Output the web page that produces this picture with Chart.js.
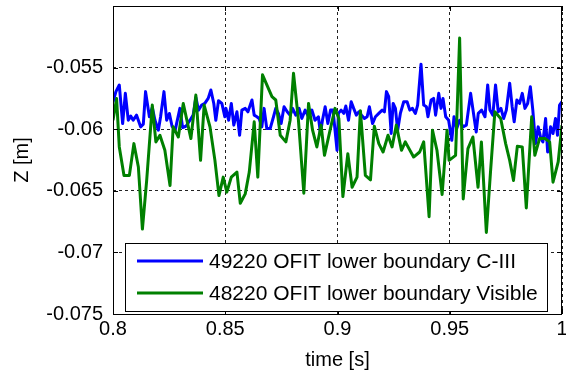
<!DOCTYPE html>
<html>
<head>
<meta charset="utf-8">
<script src="https://cdn.jsdelivr.net/npm/chart.js@4/dist/chart.umd.min.js"></script>
<style>
  body { margin: 0; background: #fff; }
  #wrap { width: 566px; height: 372px; }
</style>
</head>
<body>
<div id="wrap"><canvas id="zChart" width="566" height="372"></canvas></div>
<script>
// time axis samples [s] and lower boundary Z [m]
const blueTimes = [0.8000,0.8013,0.8028,0.8043,0.8055,0.8068,0.8079,0.8090,0.8105,0.8123,0.8135,0.8145,0.8162,0.8175,0.8187,0.8202,0.8212,0.8227,0.8239,0.8251,0.8263,0.8277,0.8298,0.8310,0.8325,0.8343,0.8357,0.8369,0.8381,0.8395,0.8409,0.8424,0.8436,0.8449,0.8458,0.8470,0.8485,0.8498,0.8503,0.8515,0.8527,0.8538,0.8552,0.8564,0.8574,0.8589,0.8601,0.8619,0.8629,0.8641,0.8651,0.8663,0.8673,0.8685,0.8700,0.8715,0.8725,0.8737,0.8749,0.8762,0.8776,0.8789,0.8800,0.8814,0.8829,0.8841,0.8856,0.8871,0.8886,0.8900,0.8915,0.8924,0.8933,0.8945,0.8957,0.8969,0.8980,0.8998,0.9004,0.9016,0.9028,0.9037,0.9049,0.9061,0.9072,0.9084,0.9095,0.9107,0.9120,0.9132,0.9142,0.9156,0.9169,0.9184,0.9199,0.9209,0.9218,0.9228,0.9239,0.9248,0.9258,0.9268,0.9280,0.9295,0.9310,0.9322,0.9334,0.9347,0.9357,0.9372,0.9384,0.9396,0.9403,0.9417,0.9428,0.9437,0.9451,0.9461,0.9470,0.9482,0.9495,0.9509,0.9519,0.9531,0.9544,0.9559,0.9574,0.9593,0.9608,0.9618,0.9627,0.9642,0.9657,0.9669,0.9679,0.9692,0.9704,0.9716,0.9728,0.9740,0.9752,0.9767,0.9778,0.9787,0.9799,0.9811,0.9823,0.9835,0.9847,0.9859,0.9870,0.9882,0.9894,0.9906,0.9915,0.9927,0.9936,0.9949,0.9960,0.9971,0.9980,0.9989,1.0000];
const blueZ = [-0.0578,-0.05695,-0.05641,-0.05954,-0.05709,-0.05927,-0.05894,-0.05927,-0.05886,-0.05981,-0.05959,-0.05695,-0.05899,-0.05823,-0.05927,-0.06008,-0.05899,-0.05695,-0.05927,-0.05872,-0.05976,-0.06008,-0.05831,-0.05986,-0.05976,-0.05927,-0.05886,-0.05742,-0.05845,-0.05804,-0.05791,-0.0575,-0.05682,-0.05791,-0.05927,-0.05769,-0.05791,-0.05899,-0.05831,-0.05927,-0.05791,-0.05967,-0.05859,-0.06049,-0.05845,-0.05831,-0.05859,-0.05763,-0.05886,-0.05899,-0.05913,-0.05981,-0.05831,-0.05995,-0.05995,-0.05899,-0.05831,-0.05872,-0.05954,-0.05818,-0.05859,-0.05886,-0.05831,-0.05886,-0.05831,-0.05913,-0.05845,-0.05899,-0.05845,-0.05927,-0.05899,-0.06035,-0.05927,-0.05818,-0.05954,-0.05845,-0.05845,-0.06171,-0.05872,-0.05845,-0.05872,-0.05812,-0.05927,-0.05777,-0.05831,-0.05886,-0.05859,-0.05886,-0.05913,-0.05899,-0.05818,-0.05954,-0.05899,-0.05872,-0.05845,-0.05859,-0.05695,-0.05736,-0.06035,-0.05791,-0.05831,-0.06008,-0.05872,-0.05777,-0.05777,-0.05845,-0.05831,-0.05872,-0.05804,-0.05472,-0.05804,-0.05818,-0.05899,-0.05763,-0.0575,-0.05886,-0.05709,-0.05831,-0.0575,-0.05899,-0.05927,-0.0609,-0.05899,-0.05995,-0.05927,-0.05981,-0.05967,-0.05709,-0.05899,-0.06022,-0.05872,-0.05845,-0.05899,-0.05641,-0.05845,-0.05886,-0.05641,-0.05859,-0.05831,-0.05913,-0.05845,-0.05627,-0.05818,-0.0594,-0.05763,-0.05791,-0.05709,-0.05831,-0.05791,-0.05655,-0.05845,-0.06117,-0.05981,-0.06076,-0.06103,-0.05913,-0.06185,-0.05981,-0.06035,-0.05913,-0.06049,-0.05804,-0.05777];

const greenTimes = [0.8000,0.8016,0.8028,0.8049,0.8073,0.8093,0.8113,0.8131,0.8150,0.8175,0.8191,0.8209,0.8231,0.8254,0.8268,0.8291,0.8313,0.8347,0.8369,0.8390,0.8406,0.8432,0.8454,0.8472,0.8491,0.8507,0.8527,0.8552,0.8567,0.8589,0.8607,0.8629,0.8645,0.8666,0.8708,0.8725,0.8745,0.8770,0.8789,0.8804,0.8826,0.8850,0.8871,0.8889,0.8908,0.8927,0.8942,0.8967,0.8989,0.9006,0.9024,0.9046,0.9065,0.9087,0.9102,0.9124,0.9147,0.9164,0.9184,0.9203,0.9225,0.9243,0.9262,0.9285,0.9302,0.9339,0.9366,0.9384,0.9408,0.9423,0.9443,0.9466,0.9488,0.9497,0.9526,0.9544,0.9560,0.9581,0.9603,0.9626,0.9641,0.9663,0.9682,0.9701,0.9727,0.9749,0.9767,0.9784,0.9801,0.9823,0.9841,0.9865,0.9879,0.9900,0.9924,0.9945,0.9960,0.9983,1.0000];
const greenZ = [-0.05927,-0.0575,-0.06144,-0.06375,-0.06375,-0.06117,-0.06307,-0.06811,-0.06416,-0.05804,-0.06103,-0.06049,-0.06171,-0.06457,-0.05981,-0.06063,-0.05791,-0.06076,-0.05723,-0.06253,-0.05804,-0.05981,-0.06253,-0.06539,-0.06389,-0.06511,-0.06389,-0.06348,-0.06601,-0.06525,-0.06348,-0.0594,-0.06389,-0.05559,-0.05736,-0.05763,-0.06049,-0.06103,-0.05927,-0.05546,-0.05927,-0.0652,-0.05791,-0.06008,-0.06144,-0.05967,-0.06212,-0.06008,-0.05831,-0.05913,-0.06547,-0.06199,-0.06471,-0.06389,-0.0585,-0.06375,-0.06411,-0.05976,-0.06117,-0.06185,-0.06049,-0.06144,-0.05967,-0.06171,-0.06103,-0.06226,-0.06185,-0.06103,-0.0671,-0.06008,-0.06171,-0.0653,-0.06008,-0.06253,-0.06212,-0.0526,-0.06566,-0.06158,-0.06063,-0.06471,-0.06103,-0.06838,-0.06335,-0.05859,-0.05913,-0.06117,-0.06253,-0.06416,-0.06139,-0.06144,-0.06639,-0.05899,-0.06212,-0.06076,-0.06076,-0.06103,-0.0643,-0.06266,-0.05967];

const seriesLabels = ['49220 OFIT lower boundary C-III', '48220 OFIT lower boundary Visible'];
const xTicks = [0.8, 0.85, 0.9, 0.95, 1];
const yTicks = [-0.075, -0.07, -0.065, -0.06, -0.055, -0.05];

const FONT = 'Helvetica, "Liberation Sans", Arial, sans-serif';

function toPoints(xs, ys) {
  return xs.map((x, i) => ({ x: x, y: ys[i] }));
}

// matlab style box with inward ticks, and legend box inside the axes
const matlabAxes = {
  id: 'matlabAxes',
  afterDatasetsDraw(chart) {
    const ctx = chart.ctx;
    const a = chart.chartArea;
    const xs = chart.scales.x, ys = chart.scales.y;
    ctx.save();
    ctx.strokeStyle = '#000';
    ctx.lineWidth = 1;
    ctx.strokeRect(a.left + 0.5, a.top + 0.5, a.right - a.left - 1, a.bottom - a.top);
    const tl = 5;
    ctx.beginPath();
    xTicks.forEach(t => {
      const px = Math.round(xs.getPixelForValue(t)) + 0.5;
      ctx.moveTo(px, a.bottom); ctx.lineTo(px, a.bottom - tl);
      ctx.moveTo(px, a.top); ctx.lineTo(px, a.top + tl);
    });
    yTicks.forEach(t => {
      const py = Math.round(ys.getPixelForValue(t)) + 0.5;
      ctx.moveTo(a.left, py); ctx.lineTo(a.left + tl, py);
      ctx.moveTo(a.right, py); ctx.lineTo(a.right - tl, py);
    });
    ctx.stroke();

    // legend
    const bx = a.left + 12, by = a.top + 237, bw = 422, bh = 68;
    ctx.fillStyle = '#fff';
    ctx.fillRect(bx, by, bw, bh);
    ctx.strokeRect(bx + 0.5, by + 0.5, bw, bh);
    ctx.font = '21px ' + FONT;
    ctx.textBaseline = 'middle';
    chart.data.datasets.forEach((ds, i) => {
      const ly = by + 18 + i * 32;
      ctx.strokeStyle = ds.borderColor;
      ctx.lineWidth = 3;
      ctx.beginPath();
      ctx.moveTo(bx + 12, ly);
      ctx.lineTo(bx + 78, ly);
      ctx.stroke();
      ctx.fillStyle = '#000';
      ctx.fillText(ds.label, bx + 84, ly + 1);
    });
    ctx.restore();
  }
};

new Chart(document.getElementById('zChart'), {
  type: 'line',
  data: {
    datasets: [{
      label: seriesLabels[0],
      data: toPoints(blueTimes, blueZ),
      borderColor: '#0000ff',
      borderWidth: 3,
      pointRadius: 0,
      tension: 0,
      borderJoinStyle: 'round',
      order: 2
    }, {
      label: seriesLabels[1],
      data: toPoints(greenTimes, greenZ),
      borderColor: '#008000',
      borderWidth: 3,
      pointRadius: 0,
      tension: 0,
      borderJoinStyle: 'round',
      order: 1
    }]
  },
  options: {
    responsive: false,
    animation: false,
    layout: { padding: { top: 6, right: 4, left: 0, bottom: 0 } },
    plugins: {
      legend: { display: false },
      tooltip: { enabled: false }
    },
    scales: {
      x: {
        type: 'linear',
        min: 0.8,
        max: 1,
        afterBuildTicks: s => { s.ticks = xTicks.map(v => ({ value: v })); },
        afterFit: s => { s.height = 58; s.paddingLeft = 0; s.paddingRight = 0; },
        ticks: {
          color: '#000',
          padding: 3,
          maxRotation: 0,
          font: { family: FONT, size: 20 },
          callback: v => String(+v.toFixed(2))
        },
        grid: { color: '#222', lineWidth: 1, drawTicks: false },
        border: { display: false, dash: [3, 3] },
        title: {
          display: true,
          text: 'time [s]',
          color: '#000',
          font: { family: FONT, size: 20 },
          padding: { top: 7, bottom: 0 }
        }
      },
      y: {
        type: 'linear',
        min: -0.075,
        max: -0.05,
        afterBuildTicks: s => { s.ticks = yTicks.map(v => ({ value: v })); },
        afterFit: s => { s.width = 113; s.paddingTop = 0; s.paddingBottom = 0; },
        ticks: {
          color: '#000',
          padding: 10,
          font: { family: FONT, size: 20 },
          callback: v => Math.abs(v + 0.05) < 1e-9 ? '' : String(+v.toFixed(3))
        },
        grid: { color: '#222', lineWidth: 1, drawTicks: false },
        border: { display: false, dash: [3, 3] },
        title: {
          display: true,
          text: 'Z [m]',
          color: '#000',
          font: { family: FONT, size: 20 },
          padding: { top: 10, bottom: 0 }
        }
      }
    }
  },
  plugins: [matlabAxes]
});
</script>
</body>
</html>
